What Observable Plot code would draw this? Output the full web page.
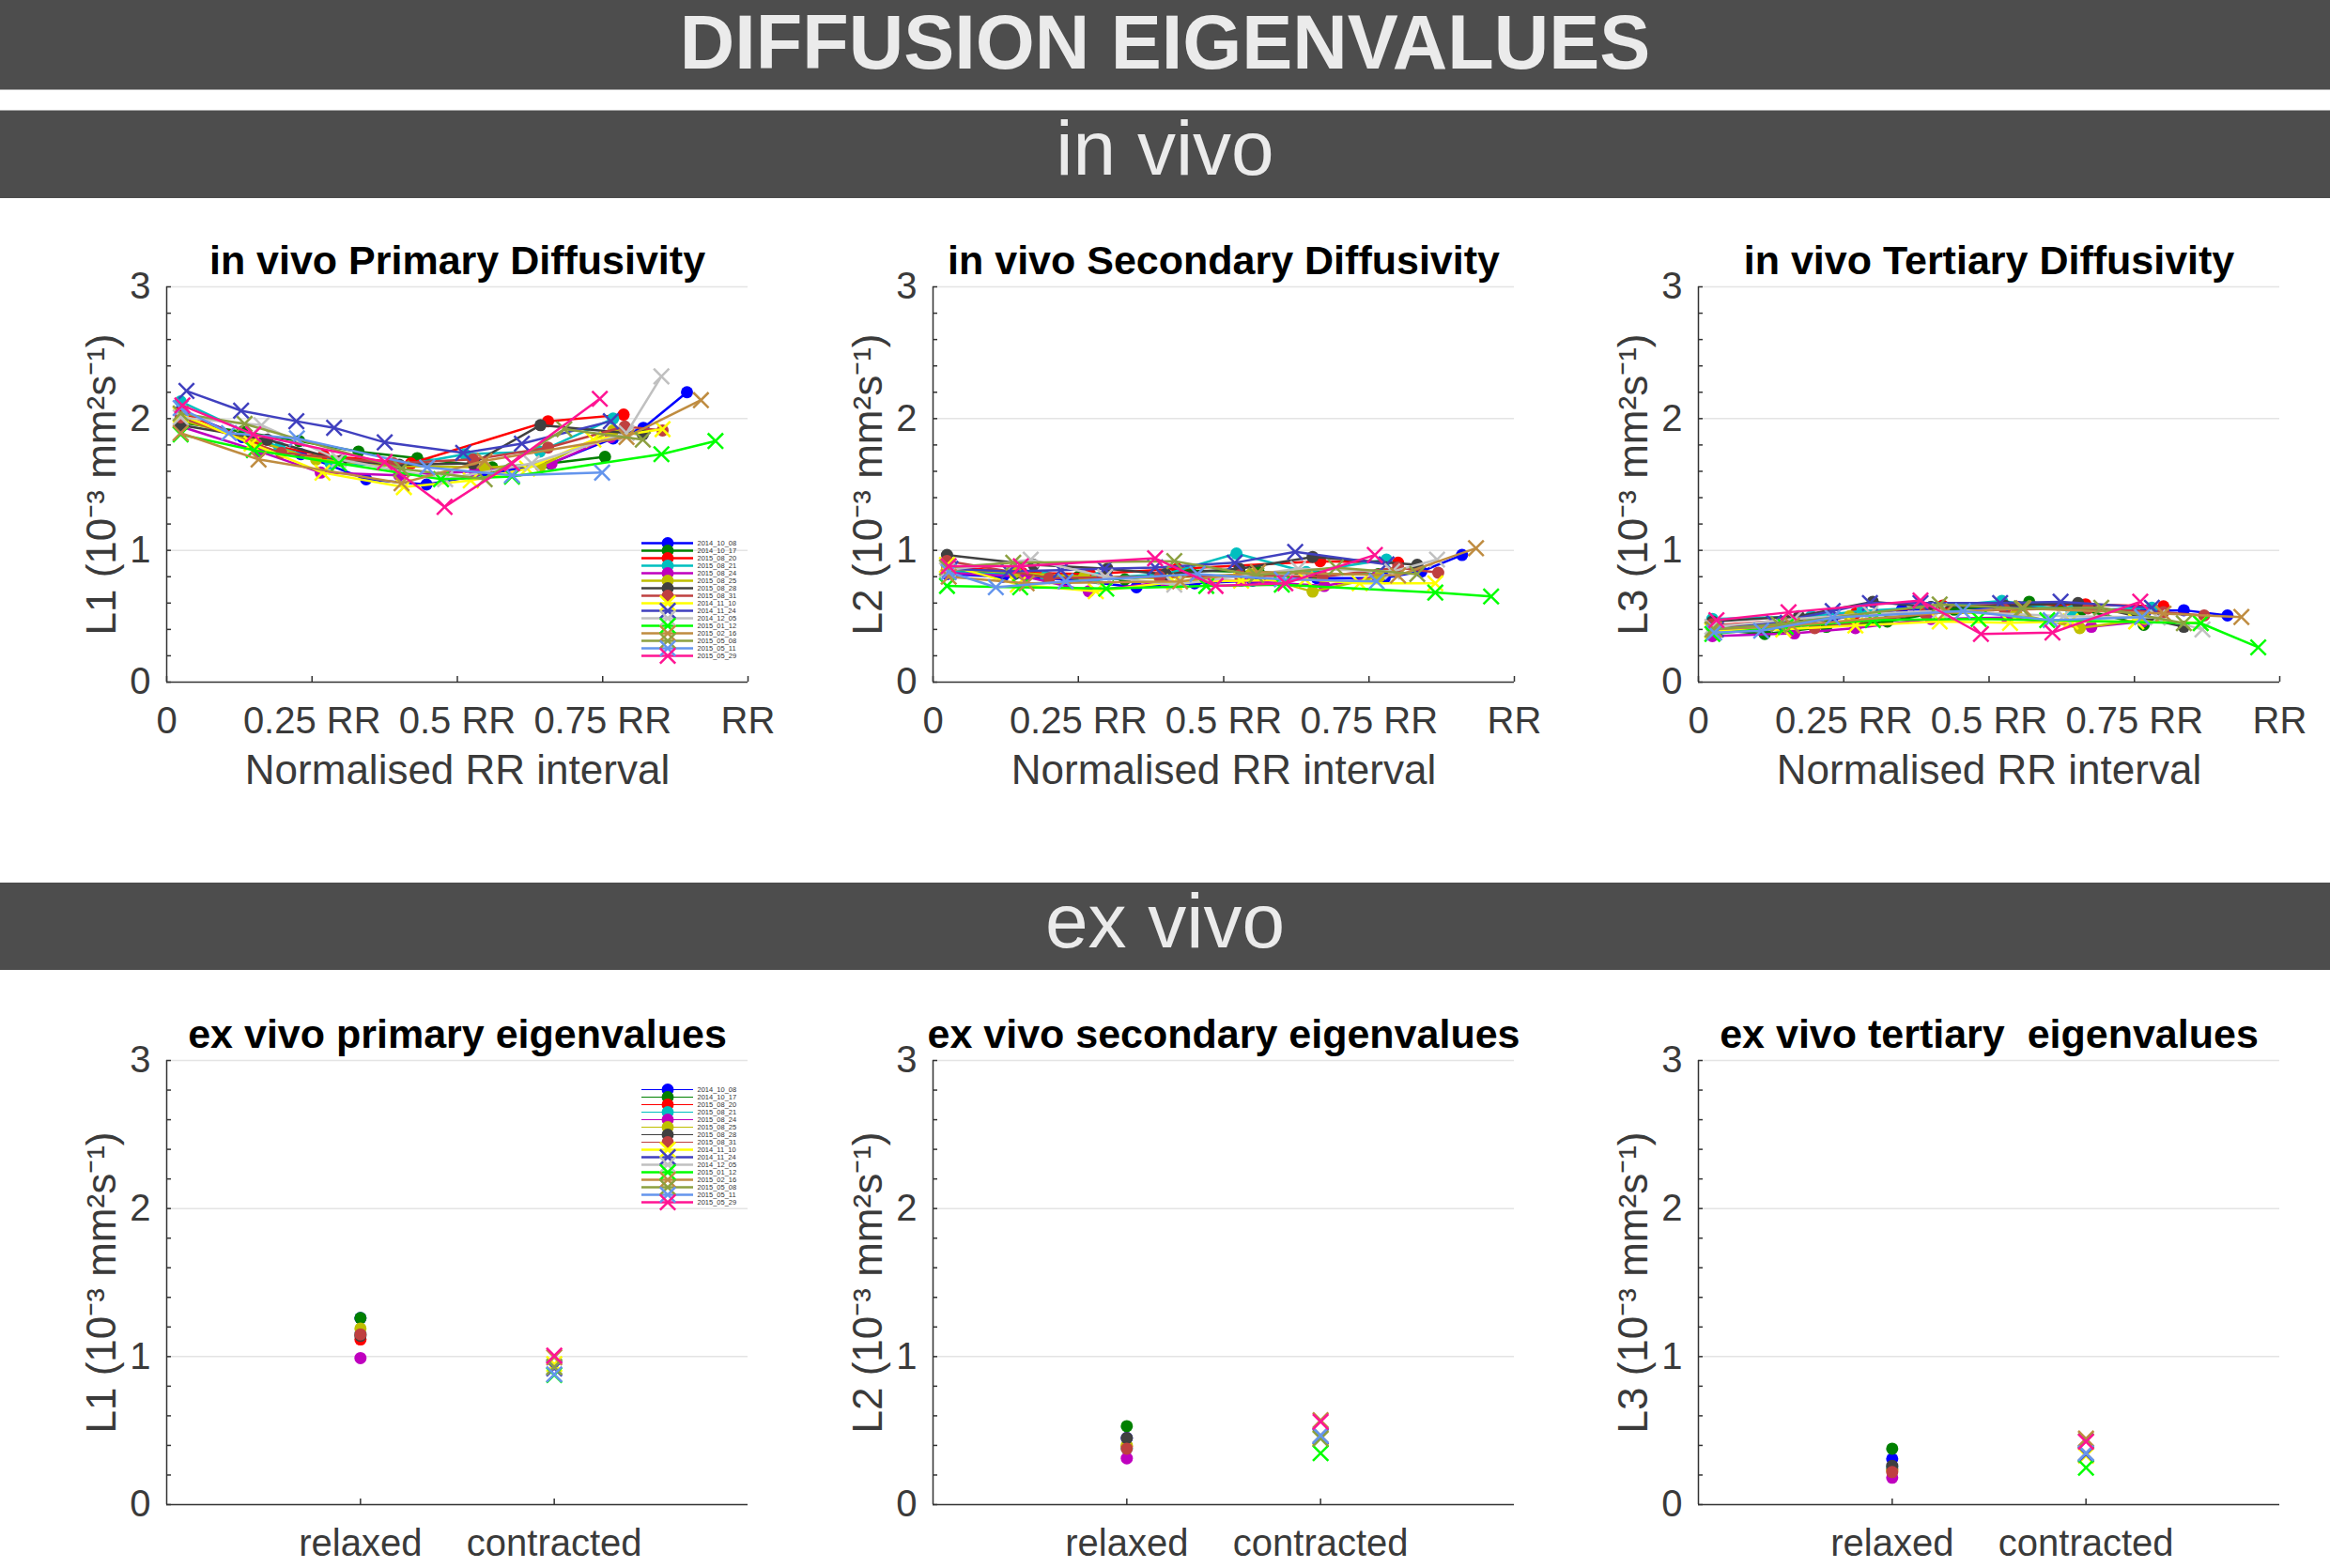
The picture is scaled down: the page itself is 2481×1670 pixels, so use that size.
<!DOCTYPE html>
<html><head><meta charset="utf-8">
<script src="https://cdn.jsdelivr.net/npm/d3@7"></script>
<script src="https://cdn.jsdelivr.net/npm/@observablehq/plot@0.6"></script>
<style>
html,body{margin:0;padding:0;background:#fff;}
#page{position:relative;width:2481px;height:1670px;overflow:hidden;font-family:"Liberation Sans",Arial,sans-serif;}
.bar{position:absolute;left:0;width:2481px;background:#4d4d4d;color:#ebebeb;text-align:center;white-space:nowrap;}
#page svg{position:absolute;max-width:none;overflow:visible;}
</style></head><body><div id="page">
<div class="bar" style="top:0;height:95px;line-height:91px;font-size:81px;font-weight:bold;border-bottom:1px solid #a8a8a8;">DIFFUSION EIGENVALUES</div>
<div class="bar" style="top:117px;height:93px;line-height:79px;font-size:82px;border-top:1px solid #a8a8a8;">in vivo</div>
<div class="bar" style="top:940px;height:93px;line-height:81px;font-size:82px;">ex vivo</div>
</div>
<script>
// ---------- series (acquisition dates) ----------
const seriesNames = ["2014_10_08","2014_10_17","2015_08_20","2015_08_21","2015_08_24","2015_08_25","2015_08_28","2015_08_31",
  "2014_11_10","2014_11_24","2014_12_05","2015_01_12","2015_02_16","2015_05_08","2015_05_11","2015_05_29"];
const seriesColors = ["#0000ff","#008000","#ff0000","#00bfbf","#bf00bf","#bfbf00","#404040","#bf4040",
  "#ffff00","#4040bf","#c0c0c0","#00ff00","#bf8c40","#8ca040","#6495ed","#ff1493"];
const seriesMarker = ["dot","dot","dot","dot","dot","dot","dot","dot","x","x","x","x","x","x","x","x"];

// ---------- in vivo: [normalised RR, eigenvalue] per series ----------
const inVivoL1 = [
  [[0.024,2.06],[0.13,1.86],[0.231,1.73],[0.343,1.54],[0.447,1.50],[0.55,1.58],[0.66,1.66],[0.768,1.85],[0.82,1.93],[0.895,2.20]],
  [[0.025,1.97],[0.13,1.90],[0.228,1.83],[0.33,1.75],[0.431,1.70],[0.56,1.63],[0.66,1.66],[0.754,1.71]],
  [[0.024,2.05],[0.153,1.82],[0.27,1.72],[0.42,1.66],[0.656,1.98],[0.786,2.03]],
  [[0.024,2.13],[0.194,1.78],[0.282,1.66],[0.40,1.64],[0.513,1.73],[0.642,1.75],[0.768,2.00]],
  [[0.024,1.94],[0.16,1.75],[0.265,1.59],[0.40,1.57],[0.53,1.60],[0.662,1.66],[0.764,1.86]],
  [[0.024,1.99],[0.14,1.85],[0.257,1.69],[0.39,1.64],[0.547,1.63],[0.643,1.64],[0.768,1.91]],
  [[0.024,1.95],[0.173,1.84],[0.30,1.68],[0.40,1.65],[0.527,1.66],[0.643,1.95],[0.819,1.88]],
  [[0.024,2.01],[0.197,1.74],[0.39,1.66],[0.527,1.69],[0.656,1.78],[0.788,1.94],[0.853,1.91]],
  [[0.024,2.03],[0.146,1.81],[0.268,1.59],[0.408,1.48],[0.523,1.53],[0.62,1.62],[0.734,1.84],[0.853,1.92]],
  [[0.034,2.21],[0.128,2.06],[0.223,1.98],[0.288,1.93],[0.375,1.82],[0.51,1.74],[0.611,1.81],[0.764,1.98]],
  [[0.024,2.01],[0.163,1.95],[0.296,1.69],[0.479,1.54],[0.628,1.66],[0.791,1.89],[0.851,2.32]],
  [[0.024,1.88],[0.15,1.76],[0.296,1.66],[0.472,1.54],[0.594,1.56],[0.851,1.73],[0.944,1.83]],
  [[0.024,1.89],[0.158,1.69],[0.404,1.51],[0.547,1.68],[0.791,1.86],[0.919,2.14]],
  [[0.024,2.04],[0.134,1.96],[0.404,1.62],[0.547,1.54],[0.684,1.92],[0.819,1.84]],
  [[0.024,2.08],[0.107,1.89],[0.224,1.85],[0.448,1.63],[0.594,1.57],[0.749,1.59]],
  [[0.027,2.10],[0.149,1.88],[0.375,1.67],[0.478,1.33],[0.594,1.66],[0.745,2.15]]
];
const inVivoL2 = [
  [[0.024,0.82],[0.12,0.80],[0.23,0.78],[0.35,0.72],[0.45,0.75],[0.55,0.77],[0.66,0.79],[0.777,0.79],[0.84,0.84],[0.91,0.965]],
  [[0.024,0.84],[0.14,0.82],[0.25,0.80],[0.33,0.78],[0.442,0.847],[0.56,0.835],[0.66,0.82],[0.766,0.82]],
  [[0.024,0.88],[0.153,0.83],[0.27,0.82],[0.42,0.86],[0.666,0.918],[0.80,0.906]],
  [[0.024,0.84],[0.194,0.80],[0.282,0.79],[0.40,0.82],[0.522,0.976],[0.642,0.835],[0.78,0.93]],
  [[0.024,0.83],[0.16,0.80],[0.268,0.69],[0.40,0.76],[0.53,0.77],[0.673,0.73],[0.764,0.80]],
  [[0.024,0.86],[0.14,0.83],[0.26,0.80],[0.39,0.79],[0.547,0.82],[0.653,0.687],[0.768,0.80]],
  [[0.024,0.965],[0.173,0.89],[0.30,0.86],[0.40,0.82],[0.527,0.86],[0.653,0.95],[0.833,0.89]],
  [[0.024,0.92],[0.2,0.79],[0.39,0.80],[0.527,0.81],[0.67,0.80],[0.80,0.87],[0.869,0.83]],
  [[0.024,0.89],[0.146,0.74],[0.28,0.69],[0.415,0.76],[0.53,0.77],[0.64,0.78],[0.734,0.75],[0.864,0.75]],
  [[0.03,0.86],[0.13,0.84],[0.22,0.85],[0.295,0.86],[0.382,0.87],[0.519,0.906],[0.623,0.988],[0.78,0.894]],
  [[0.024,0.85],[0.168,0.93],[0.296,0.80],[0.415,0.74],[0.628,0.86],[0.79,0.84],[0.867,0.93]],
  [[0.024,0.73],[0.15,0.72],[0.298,0.71],[0.47,0.73],[0.6,0.74],[0.864,0.68],[0.96,0.65]],
  [[0.027,0.80],[0.161,0.75],[0.425,0.765],[0.559,0.835],[0.80,0.81],[0.934,1.016]],
  [[0.024,0.87],[0.138,0.906],[0.415,0.918],[0.556,0.81],[0.693,0.87],[0.833,0.82]],
  [[0.027,0.835],[0.108,0.72],[0.228,0.765],[0.455,0.82],[0.6,0.78],[0.763,0.765]],
  [[0.027,0.88],[0.151,0.88],[0.382,0.94],[0.486,0.73],[0.606,0.75],[0.76,0.965]]
];
const inVivoL3 = [
  [[0.024,0.40],[0.12,0.42],[0.23,0.48],[0.35,0.55],[0.45,0.56],[0.55,0.57],[0.66,0.56],[0.77,0.54],[0.835,0.546],[0.91,0.506]],
  [[0.024,0.40],[0.114,0.365],[0.22,0.42],[0.325,0.46],[0.44,0.55],[0.569,0.61],[0.66,0.55],[0.766,0.435]],
  [[0.024,0.43],[0.153,0.47],[0.27,0.52],[0.42,0.58],[0.666,0.59],[0.80,0.575]],
  [[0.024,0.48],[0.194,0.50],[0.282,0.54],[0.40,0.57],[0.522,0.616],[0.642,0.54],[0.78,0.565]],
  [[0.024,0.35],[0.165,0.37],[0.27,0.41],[0.40,0.48],[0.53,0.49],[0.676,0.42],[0.764,0.46]],
  [[0.024,0.40],[0.14,0.43],[0.26,0.50],[0.39,0.53],[0.547,0.52],[0.656,0.41],[0.768,0.48]],
  [[0.024,0.46],[0.173,0.50],[0.30,0.61],[0.40,0.57],[0.527,0.58],[0.653,0.60],[0.835,0.42]],
  [[0.024,0.44],[0.2,0.41],[0.39,0.52],[0.527,0.55],[0.67,0.56],[0.80,0.53],[0.87,0.506]],
  [[0.024,0.39],[0.146,0.40],[0.27,0.43],[0.415,0.46],[0.536,0.45],[0.64,0.46],[0.753,0.46],[0.864,0.45]],
  [[0.03,0.40],[0.13,0.45],[0.231,0.54],[0.295,0.60],[0.382,0.60],[0.519,0.60],[0.623,0.61],[0.78,0.565]],
  [[0.024,0.42],[0.165,0.48],[0.296,0.52],[0.415,0.54],[0.628,0.50],[0.79,0.49],[0.867,0.40]],
  [[0.024,0.365],[0.15,0.42],[0.3,0.47],[0.482,0.48],[0.6,0.47],[0.864,0.447],[0.963,0.264]],
  [[0.027,0.40],[0.161,0.43],[0.425,0.53],[0.559,0.56],[0.80,0.52],[0.934,0.494]],
  [[0.024,0.40],[0.138,0.44],[0.415,0.59],[0.556,0.56],[0.693,0.565],[0.835,0.447]],
  [[0.027,0.376],[0.108,0.39],[0.231,0.49],[0.455,0.54],[0.606,0.47],[0.763,0.494]],
  [[0.031,0.47],[0.155,0.53],[0.382,0.62],[0.486,0.365],[0.609,0.376],[0.76,0.61]]
];
const rrTicks = [0, 0.25, 0.5, 0.75, 1];
const rrTickLabels = ["0", "0.25 RR", "0.5 RR", "0.75 RR", "RR"];

// ---------- ex vivo: one value per series ----------
const exCategories = ["relaxed", "contracted"];
const exCondition = ["relaxed","relaxed","relaxed","relaxed","relaxed","relaxed","relaxed","relaxed",
  "contracted","contracted","contracted","contracted","contracted","contracted","contracted","contracted"];
const exVivoL1 = [1.26,1.26,1.116,1.15,0.99,1.19,1.14,1.15, 0.95,0.92,0.93,0.875,0.995,0.93,0.88,1.006];
const exVivoL2 = [0.45,0.53,0.393,0.38,0.313,0.40,0.45,0.378, 0.45,0.46,0.47,0.347,0.57,0.446,0.467,0.56];
const exVivoL3 = [0.309,0.378,0.24,0.25,0.182,0.23,0.262,0.22, 0.33,0.34,0.35,0.25,0.446,0.43,0.347,0.425];

const yTicks = [0, 1, 2, 3];
const yMinorTicks = [0,0.2,0.4,0.6,0.8,1,1.2,1.4,1.6,1.8,2,2.2,2.4,2.6,2.8,3];

// ---------- drawing ----------
const FONT = "'Liberation Sans', Arial, sans-serif";
const TXT = "#3a3a3a";
const AX = "#333333";
const FRAME_W = 619;
const page = document.getElementById("page");

function seriesMarks(rows, withLines) {
  const marks = [];
  for (let i = 0; i < seriesNames.length; i++) {
    const d = rows.filter(r => r.i === i);
    if (!d.length) continue;
    if (withLines) marks.push(Plot.line(d, {x: "x", y: "y", stroke: seriesColors[i], strokeWidth: 2.5, strokeLinejoin: "round"}));
    if (seriesMarker[i] === "dot") marks.push(Plot.dot(d, {x: "x", y: "y", fill: seriesColors[i], r: 6.5}));
    else marks.push(Plot.dot(d, {x: "x", y: "y", stroke: seriesColors[i], symbol: "times", r: 7.5, strokeWidth: 2.5}));
  }
  return marks;
}

function panel({frameLeft, frameTop, frameH, xDomain, xTicks, xLabels, xTickMarks, title, yLabel, xLabel, rows, withLines}) {
  const mL = 170, mR = 30, mT = 70, mB = 140;
  const chart = Plot.plot({
    width: mL + FRAME_W + mR, height: mT + frameH + mB,
    marginLeft: mL, marginRight: mR, marginTop: mT, marginBottom: mB,
    x: {domain: xDomain}, y: {domain: [0, 3]},
    style: {fontFamily: FONT, background: "transparent", overflow: "visible"},
    marks: [
      Plot.ruleY(yTicks.filter(d => d > 0), {y: d => d, stroke: "#e4e4e4", strokeWidth: 1.5}),
      Plot.ruleX([xDomain[0]], {x: d => d, stroke: AX, strokeWidth: 1.5}),
      Plot.ruleY([0], {y: d => d, stroke: AX, strokeWidth: 1.5}),
      Plot.tickY(yMinorTicks, {y: d => d, insetRight: FRAME_W - 5, stroke: AX, strokeWidth: 1.5}),
      Plot.tickX(xTickMarks, {x: d => d, insetTop: frameH - 6, stroke: AX, strokeWidth: 1.5}),
      Plot.axisY({ticks: yTicks, tickFormat: d => String(d), tickSize: 0, tickPadding: 17, fontSize: 40, fill: TXT, label: null}),
      Plot.axisX({ticks: xTicks, tickFormat: d => xLabels[xTicks.indexOf(d)], tickSize: 0, tickPadding: 26, fontSize: 40, fill: TXT, label: null}),
      ...seriesMarks(rows, withLines),
      Plot.text([title], {text: d => d, frameAnchor: "top", dy: -14, lineAnchor: "bottom", fontSize: 43, fontWeight: "bold", fill: "#000"}),
      Plot.text([yLabel], {text: d => d, frameAnchor: "left", rotate: -90, dx: -69, lineAnchor: "middle", textAnchor: "middle", fontSize: 44, fill: TXT}),
      ...(xLabel ? [Plot.text([xLabel], {text: d => d, frameAnchor: "bottom", dy: 94, lineAnchor: "middle", fontSize: 44, fill: TXT})] : [])
    ]
  });
  chart.style.left = (frameLeft - mL) + "px";
  chart.style.top = (frameTop - mT) + "px";
  page.appendChild(chart);
}

function legend({frameLeft, firstRowY, lastRowY, thinFirst}) {
  const mL = 4, mR = 50, mT = 12, mB = 12, w = 55;
  const chart = Plot.plot({
    width: mL + w + mR, height: mT + (lastRowY - firstRowY) + mB,
    marginLeft: mL, marginRight: mR, marginTop: mT, marginBottom: mB,
    x: {domain: [0, 1], axis: null},
    y: {type: "point", domain: seriesNames, padding: 0, axis: null},
    style: {fontFamily: FONT, background: "transparent", overflow: "visible"},
    marks: [
      ...seriesNames.map((n, i) => Plot.ruleY([n], {y: d => d, stroke: seriesColors[i], strokeWidth: thinFirst && i < 8 ? 1 : 2.5})),
      ...seriesNames.map((n, i) => seriesMarker[i] === "dot"
        ? Plot.dot([n], {y: d => d, fill: seriesColors[i], r: 6.5})
        : Plot.dot([n], {y: d => d, stroke: seriesColors[i], symbol: "times", r: 7.5, strokeWidth: 2.5})),
      Plot.text(seriesNames, {y: d => d, text: d => d, frameAnchor: "right", textAnchor: "start", dx: 4, fontSize: 7.5, fill: "#333"})
    ]
  });
  chart.style.left = (frameLeft - mL) + "px";
  chart.style.top = (firstRowY - mT) + "px";
  page.appendChild(chart);
}

function vivoRows(list) { return list.flatMap((pts, i) => pts.map(([x, y]) => ({i, x, y}))); }
function exRows(values) { return values.map((y, i) => ({i, x: exCategories.indexOf(exCondition[i]) + 1, y})); }

const lefts = [177, 993, 1808];
const inVivoSets = [
  [inVivoL1, "in vivo Primary Diffusivity", "L1 (10\u207B\u00B3 mm\u00B2s\u207B\u00B9)"],
  [inVivoL2, "in vivo Secondary Diffusivity", "L2 (10\u207B\u00B3 mm\u00B2s\u207B\u00B9)"],
  [inVivoL3, "in vivo Tertiary Diffusivity", "L3 (10\u207B\u00B3 mm\u00B2s\u207B\u00B9)"]
];
inVivoSets.forEach(([data, title, yl], k) => panel({
  frameLeft: lefts[k], frameTop: 305, frameH: 421, xDomain: [0, 1],
  xTicks: rrTicks, xLabels: rrTickLabels, xTickMarks: rrTicks,
  title, yLabel: yl, xLabel: "Normalised RR interval", rows: vivoRows(data), withLines: true
}));
const exSets = [
  [exVivoL1, "ex vivo primary eigenvalues", "L1 (10\u207B\u00B3 mm\u00B2s\u207B\u00B9)"],
  [exVivoL2, "ex vivo secondary eigenvalues", "L2 (10\u207B\u00B3 mm\u00B2s\u207B\u00B9)"],
  [exVivoL3, "ex vivo tertiary  eigenvalues", "L3 (10\u207B\u00B3 mm\u00B2s\u207B\u00B9)"]
];
exSets.forEach(([data, title, yl], k) => panel({
  frameLeft: lefts[k], frameTop: 1129, frameH: 473, xDomain: [0, 3],
  xTicks: [1, 2], xLabels: exCategories, xTickMarks: [1, 2],
  title, yLabel: yl, xLabel: null, rows: exRows(data), withLines: false
}));
legend({frameLeft: 683, firstRowY: 572, lastRowY: 703, thinFirst: false});
legend({frameLeft: 683, firstRowY: 1154, lastRowY: 1286, thinFirst: true});
</script></body></html>
